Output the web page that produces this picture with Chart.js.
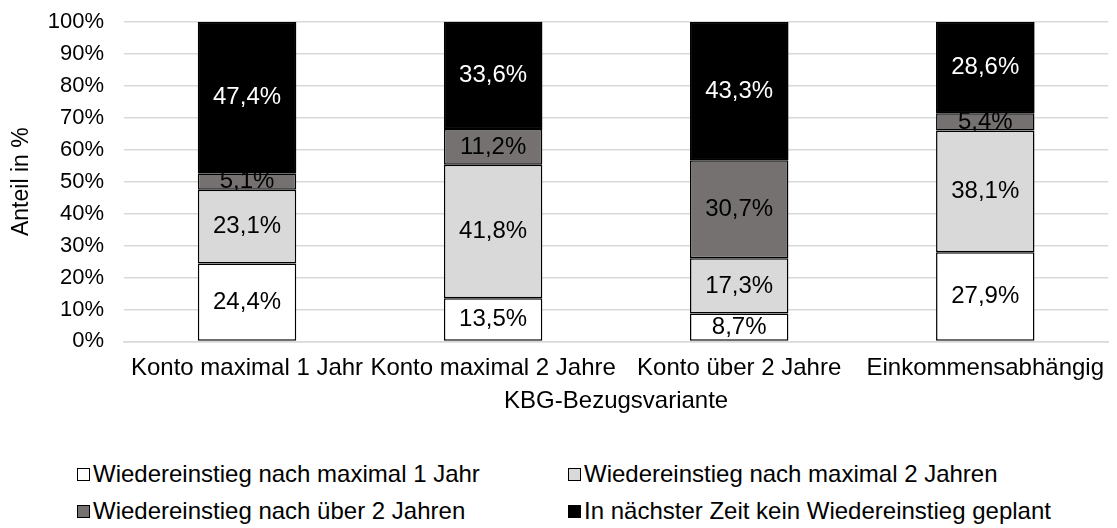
<!DOCTYPE html>
<html lang="de">

<head>
    <meta charset="UTF-8">
    <meta name="viewport" content="width=device-width, initial-scale=1.0">
    <title>KBG-Bezugsvariante | Wiedereinstieg</title>

    <script src="https://cdn.jsdelivr.net/npm/chart.js"></script>

    <style>
        body {
            margin: 0;
            background: #ffffff;
        }

        .janela {
            position: relative;
            width: 1117px;
            height: 528px;
            font-family: "Liberation Sans", Arial, sans-serif;
        }

        .grafico {
            position: absolute;
            left: 0;
            top: 0;
            width: 1117px;
            height: 440px;
        }

        .legenda-item {
            position: absolute;
            display: flex;
            align-items: center;
            height: 28px;
            font-size: 24px;
            color: #000000;
            white-space: nowrap;
        }

        .quadrado {
            width: 13px;
            height: 13px;
            border: 1px solid #000000;
            box-sizing: border-box;
            margin-right: 3px;
        }
    </style>
</head>

<body>
    <div class="janela">
        <div class="grafico">
            <canvas id="myChart"></canvas>
        </div>
        <div id="legenda"></div>
    </div>
</body>

<script>
    // Dados do gráfico
    const categorias = ['Konto maximal 1 Jahr', 'Konto maximal 2 Jahre', 'Konto über 2 Jahre', 'Einkommensabhängig'];
    const nomesSeries = [
        'Wiedereinstieg nach maximal 1 Jahr',
        'Wiedereinstieg nach maximal 2 Jahren',
        'Wiedereinstieg nach über 2 Jahren',
        'In nächster Zeit kein Wiedereinstieg geplant'
    ];
    const maximal1Jahr = [24.4, 13.5, 8.7, 27.9];
    const maximal2Jahre = [23.1, 41.8, 17.3, 38.1];
    const ueber2Jahre = [5.1, 11.2, 30.7, 5.4];
    const keinWiedereinstieg = [47.4, 33.6, 43.3, 28.6];
    const marcasY = [0, 10, 20, 30, 40, 50, 60, 70, 80, 90, 100];

    const valoresSeries = [maximal1Jahr, maximal2Jahre, ueber2Jahre, keinWiedereinstieg];
    const cores = ['#ffffff', '#d9d9d9', '#767171', '#000000'];
    const coresRotulo = ['#000000', '#000000', '#000000', '#ffffff'];

    const fonte = '"Liberation Sans", Arial, sans-serif';
    Chart.defaults.font.family = fonte;
    Chart.defaults.color = '#000000';

    // formata 24.4 -> "24,4%"
    function formatar(v) {
        return v.toFixed(1).replace('.', ',') + '%';
    }

    function desenharRotulos(ctx, meta, i) {
        ctx.fillStyle = coresRotulo[i];
        meta.data.forEach(function (barra, j) {
            const meio = (barra.y + barra.base) / 2;
            ctx.fillText(formatar(valoresSeries[i][j]), barra.x, meio);
        });
    }

    // rótulos no meio de cada segmento; a série preta é redesenhada por cima
    // para cobrir os rótulos que passam do segmento fino (como no original)
    const rotulosPlugin = {
        id: 'rotulos',
        afterDatasetsDraw(chart) {
            const ctx = chart.ctx;
            ctx.save();
            ctx.font = '24px ' + fonte;
            ctx.textAlign = 'center';
            ctx.textBaseline = 'middle';
            const ultimo = valoresSeries.length - 1;
            for (let i = 0; i < ultimo; i++) {
                desenharRotulos(ctx, chart.getDatasetMeta(i), i);
            }
            const metaPreta = chart.getDatasetMeta(ultimo);
            metaPreta.data.forEach(function (barra) { barra.draw(ctx); });
            ctx.font = '24px ' + fonte;
            ctx.textAlign = 'center';
            ctx.textBaseline = 'middle';
            desenharRotulos(ctx, metaPreta, ultimo);
            ctx.restore();
        }
    };

    const dados = {
        labels: categorias,
        datasets: valoresSeries.map(function (valores, i) {
            return {
                label: nomesSeries[i],
                data: valores,
                backgroundColor: cores[i],
                borderColor: '#000000',
                borderWidth: 1.5,
                borderSkipped: false,
                barPercentage: 0.4,
                categoryPercentage: 1.0
            };
        })
    };

    const config = {
        type: 'bar',
        data: dados,
        plugins: [rotulosPlugin],
        options: {
            responsive: true,
            maintainAspectRatio: false,
            animation: false,
            layout: {
                padding: { top: 22, right: 0, bottom: 24, left: 0 }
            },
            plugins: {
                legend: { display: false },
                tooltip: { enabled: false }
            },
            scales: {
                x: {
                    stacked: true,
                    grid: { display: false, drawTicks: false },
                    border: { display: true, color: '#d9d9d9', width: 1.5 },
                    ticks: {
                        font: { size: 24 },
                        padding: 13,
                        maxRotation: 0,
                        autoSkip: false
                    },
                    title: {
                        display: true,
                        text: 'KBG-Bezugsvariante',
                        font: { size: 24 },
                        padding: { top: -9, bottom: 0 }
                    }
                },
                y: {
                    stacked: true,
                    min: 0,
                    max: 100,
                    afterFit(escala) {
                        // largura fixa do eixo e sem folga extra em cima/embaixo
                        escala.width = 124;
                        escala.paddingTop = 12;
                        escala.paddingBottom = 12;
                    },
                    afterBuildTicks(escala) {
                        escala.ticks = marcasY.map(function (v) { return { value: v }; });
                    },
                    grid: { color: '#d9d9d9', lineWidth: 1.5, drawTicks: false },
                    border: { display: false },
                    ticks: {
                        font: { size: 22 },
                        padding: 20,
                        autoSkip: false,
                        callback: function (v) { return v + '%'; }
                    },
                    title: {
                        display: true,
                        text: 'Anteil in %',
                        font: { size: 23 },
                        padding: { top: 8, bottom: 0 }
                    }
                }
            }
        }
    };

    new Chart(document.getElementById('myChart'), config);

    // legenda em HTML, duas colunas
    const posLegenda = [
        { left: 77, top: 460 },
        { left: 568, top: 460 },
        { left: 77, top: 497 },
        { left: 568, top: 497 }
    ];
    const legenda = document.getElementById('legenda');
    nomesSeries.forEach(function (nome, i) {
        const item = document.createElement('div');
        item.className = 'legenda-item';
        item.style.left = posLegenda[i].left + 'px';
        item.style.top = posLegenda[i].top + 'px';
        item.innerHTML = '<div class="quadrado" style="background:' + cores[i] + '"></div>' + nome;
        legenda.appendChild(item);
    });
</script>

</html>
